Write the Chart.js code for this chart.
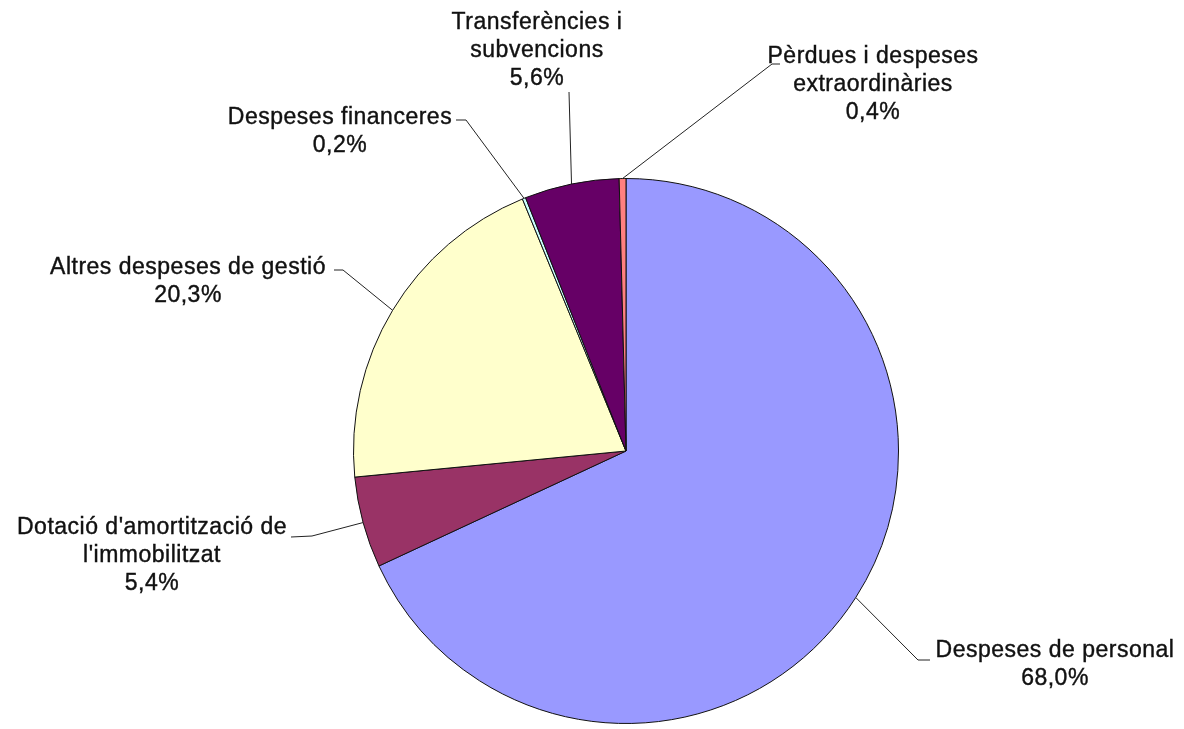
<!DOCTYPE html>
<html>
<head>
<meta charset="utf-8">
<script src="https://cdn.jsdelivr.net/npm/chart.js@4"></script>
<style>
  html, body { margin: 0; padding: 0; background: #fff; }
  #wrap { width: 1184px; height: 729px; }
</style>
</head>
<body>
<div id="wrap"><canvas id="pieChart" width="1184" height="729"></canvas></div>
<script>
// Data
const categories = [
  "Despeses de personal",
  "Dotació d'amortització de l'immobilitzat",
  "Altres despeses de gestió",
  "Despeses financeres",
  "Transferències i subvencions",
  "Pèrdues i despeses extraordinàries"
];
const shares = [68.0, 5.4, 20.3, 0.2, 5.6, 0.4];
const labelLines = [
  ["Despeses de personal"],
  ["Dotació d'amortització de", "l'immobilitzat"],
  ["Altres despeses de gestió"],
  ["Despeses financeres"],
  ["Transferències i", "subvencions"],
  ["Pèrdues i despeses", "extraordinàries"]
];
const sliceColors = ["#9999FF", "#993366", "#FFFFCC", "#CCFFFF", "#660066", "#FF8080"];

// Label layout, offsets from the pie centre (text centre of first line, leader elbow, leader end)
const labelLayout = [
  { tx: 429, ty: 200, elbow: [292, 209], end: [304, 209] },
  { tx: -474, ty: 77, elbow: [-314, 85], end: [-335, 86] },
  { tx: -438, ty: -183, elbow: [-283, -181], end: [-292, -181] },
  { tx: -286, ty: -333, elbow: [-160, -331], end: [-170, -331] },
  { tx: -89, ty: -428, elbow: [-57, -359], end: [-57, -359] },
  { tx: 247, ty: -394, elbow: [146, -387], end: [154, -387] }
];

const fmt = v => v.toFixed(1).replace(".", ",") + "%";

const leaderLabels = {
  id: "leaderLabels",
  afterDraw(chart) {
    const ctx = chart.ctx;
    const meta = chart.getDatasetMeta(0);
    ctx.save();
    ctx.font = "23px 'Liberation Sans', Arial, sans-serif";
    ctx.letterSpacing = "0.5px";
    ctx.textAlign = "center";
    ctx.textBaseline = "middle";
    meta.data.forEach((arc, i) => {
      const p = arc.getProps(["x", "y", "startAngle", "endAngle", "outerRadius"], true);
      const mid = (p.startAngle + p.endAngle) / 2;
      const sx = p.x + Math.cos(mid) * p.outerRadius;
      const sy = p.y + Math.sin(mid) * p.outerRadius;
      const L = labelLayout[i];
      ctx.strokeStyle = "#222";
      ctx.lineWidth = 1;
      ctx.beginPath();
      ctx.moveTo(sx, sy);
      ctx.lineTo(p.x + L.elbow[0], p.y + L.elbow[1]);
      ctx.lineTo(p.x + L.end[0], p.y + L.end[1]);
      ctx.stroke();
      const lines = labelLines[i].concat([fmt(shares[i])]);
      ctx.fillStyle = "#111";
      ctx.strokeStyle = "#111";
      ctx.lineWidth = 0.4;
      lines.forEach((t, k) => {
        ctx.fillText(t, p.x + L.tx, p.y + L.ty + k * 28);
        ctx.strokeText(t, p.x + L.tx, p.y + L.ty + k * 28);
      });
    });
    ctx.restore();
  }
};

new Chart(document.getElementById("pieChart").getContext("2d"), {
  type: "pie",
  data: {
    labels: categories,
    datasets: [{
      data: shares,
      backgroundColor: sliceColors,
      borderColor: "#111",
      borderWidth: 1
    }]
  },
  options: {
    responsive: false,
    animation: false,
    layout: { padding: { left: 353, right: 285, top: 178, bottom: 5 } },
    plugins: {
      legend: { display: false },
      tooltip: { enabled: false }
    }
  },
  plugins: [leaderLabels]
});
</script>
</body>
</html>
